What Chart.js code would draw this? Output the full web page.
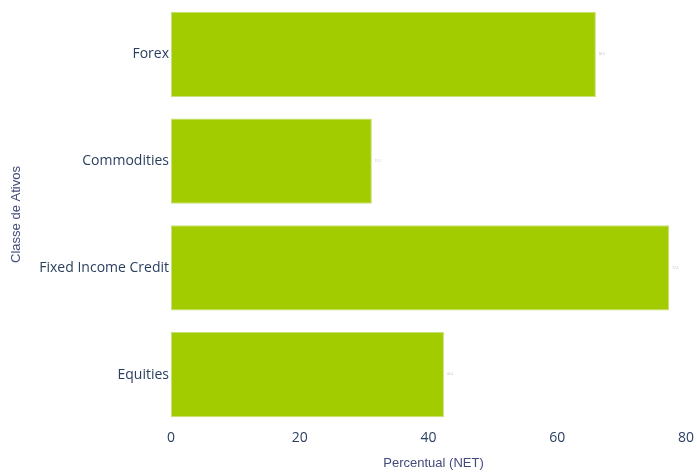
<!DOCTYPE html>
<html>
<head>
<meta charset="utf-8">
<script src="https://cdn.jsdelivr.net/npm/chart.js@4/dist/chart.umd.min.js"></script>
<style>
html,body{margin:0;padding:0;background:#fff;}
#wrap{width:697px;height:472px;position:relative;}
</style>
</head>
<body>
<div id="wrap"><canvas id="c"></canvas></div>
<script>
const categories = ["Forex", "Commodities", "Fixed Income Credit", "Equities"];
const values = [66.0, 31.2, 77.4, 42.4];
const xTicks = [0, 20, 40, 60, 80];
const xTitle = 'Percentual (NET)';
const yTitle = 'Classe de Ativos';

const extras = {
  id: 'extras',
  afterDatasetsDraw(chart) {
    const ctx = chart.ctx;
    const meta = chart.getDatasetMeta(0);
    ctx.save();
    ctx.font = '3px "Open Sans"';
    ctx.fillStyle = '#bbbbbb';
    ctx.textBaseline = 'middle';
    meta.data.forEach((bar, i) => {
      ctx.fillText(values[i].toFixed(1), bar.x + 3, bar.y);
    });
    ctx.restore();
  },
  afterDraw(chart) {
    const ctx = chart.ctx;
    const a = chart.chartArea;
    ctx.save();
    ctx.font = '13px "Liberation Sans"';
    ctx.fillStyle = '#444a7a';
    ctx.textAlign = 'center';
    ctx.textBaseline = 'middle';
    ctx.fillText(xTitle, (a.left + a.right) / 2 + 5, chart.height - 9);
    ctx.restore();
  }
};

new Chart(document.getElementById('c'), {
  type: 'bar',
  data: {
    labels: categories,
    datasets: [{
      data: values,
      backgroundColor: '#a3cc00',
      borderColor: '#c8e07a',
      borderWidth: 1,
      borderSkipped: false,
      categoryPercentage: 0.8,
      barPercentage: 1.0
    }]
  },
  options: {
    indexAxis: 'y',
    responsive: true,
    maintainAspectRatio: false,
    animation: false,
    layout: { padding: { top: 1, right: 11, left: 0, bottom: 0 } },
    plugins: { legend: { display: false }, tooltip: { enabled: false } },
    scales: {
      x: {
        min: 0, max: 80,
        afterBuildTicks(scale) { scale.ticks = xTicks.map(v => ({ value: v })); },
        afterFit(scale) { scale.height = 44; },
        grid: { display: false, drawTicks: false },
        border: { display: false },
        ticks: { color: '#2a3f5f', font: { family: '"Open Sans"', size: 14 }, padding: 2 },
        title: { display: false }
      },
      y: {
        afterFit(scale) { scale.width = 171; scale.paddingTop = 0; scale.paddingBottom = 0; },
        grid: { display: false, drawTicks: false },
        border: { display: false },
        ticks: { color: '#2a3f5f', font: { family: '"Open Sans"', size: 14 }, padding: 2 },
        title: { display: true, text: yTitle, color: '#444a7a', font: { family: '"Liberation Sans"', size: 13 }, padding: { top: 9, bottom: 0 } }
      }
    }
  },
  plugins: [extras]
});
</script>
</body>
</html>
